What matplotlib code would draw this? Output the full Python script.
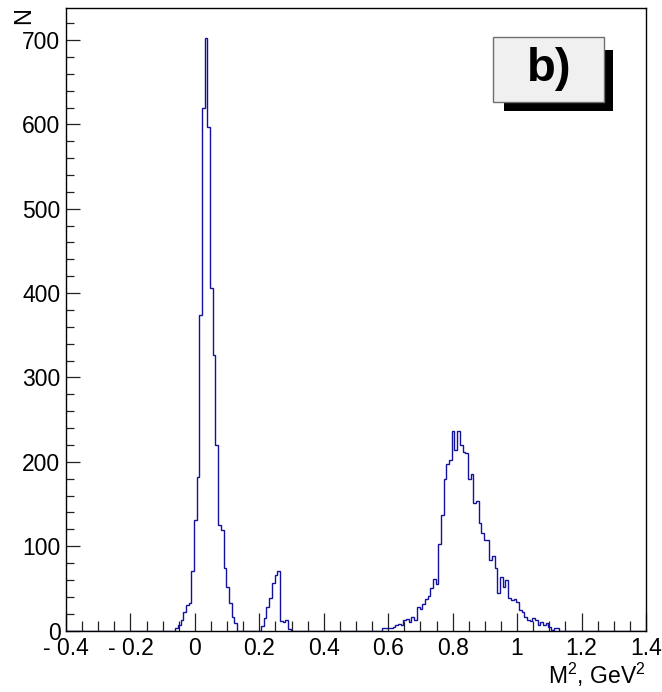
import numpy as np
import matplotlib
matplotlib.use("Agg")
import matplotlib.pyplot as plt
from matplotlib.patches import Rectangle
from matplotlib.ticker import MultipleLocator, FixedLocator, FixedFormatter

plt.rcParams['font.family'] = ['Liberation Sans', 'DejaVu Sans']
plt.rcParams['mathtext.fontset'] = 'custom'
plt.rcParams['mathtext.rm'] = 'Liberation Sans'
plt.rcParams['mathtext.it'] = 'Liberation Sans:italic'

# ---- data -------------------------------------------------------------
hist_lo = -0.4028
bin_width = 1 / 120
nbins = 217

pi_first_bin = 41
pi_counts = [3, 6, 12, 22, 30, 33, 71, 131, 182, 374, 620, 703, 597, 406,
             327, 220, 125, 119, 74, 52, 33, 16, 9]

eta_first_bin = 73
eta_counts = [5, 15, 28, 38, 56, 66, 70, 11, 10, 12, 2]

omega_first_bin = 118
omega_counts = [3, 3, 3, 3, 4, 6, 8, 6, 12, 14, 10, 16, 12, 28, 26, 32, 37,
                41, 50, 61, 55, 103, 137, 180, 197, 202, 237, 214, 237, 220,
                212, 210, 180, 185, 151, 153, 127, 115, 107, 107, 84, 88, 74,
                44, 64, 52, 60, 38, 36, 37, 34, 24, 22, 16, 12, 11, 15, 13, 6,
                10, 6, 9, 4, 1, 3, 3]

x_ticks = [-0.4, -0.2, 0, 0.2, 0.4, 0.6, 0.8, 1.0, 1.2, 1.4]
x_ticklabels = ["- 0.4", "- 0.2", "0", "0.2", "0.4", "0.6", "0.8", "1", "1.2", "1.4"]
y_ticks = [0, 100, 200, 300, 400, 500, 600, 700]
x_label = r"M$^2$, GeV$^2$"
y_label = "N"
panel_label = "b)"

# ---- build histogram ---------------------------------------------------
counts = np.zeros(nbins)
for first, vals in ((pi_first_bin, pi_counts), (eta_first_bin, eta_counts),
                    (omega_first_bin, omega_counts)):
    counts[first:first + len(vals)] = vals
edges = hist_lo + bin_width * np.arange(nbins + 1)

W, H = 662, 692
fig = plt.figure(figsize=(W / 100, H / 100), dpi=100)
fig.patch.set_facecolor('white')

def fx(px):
    return px / W

def fy(py):
    return 1 - py / H

left, right, top, bottom = 66, 646, 8, 630.5
ax = fig.add_axes([fx(left), fy(bottom), (right - left) / W, (bottom - top) / H])

ax.stairs(counts, edges, color='#12129c', lw=1.0, zorder=2)
ax.set_xlim(-0.4, 1.4)
ax.set_ylim(0, 738)

for s in ax.spines.values():
    s.set_linewidth(1.0)
    s.set_color('black')
    s.set_zorder(3)

ax.xaxis.set_major_locator(FixedLocator(x_ticks))
ax.xaxis.set_major_formatter(FixedFormatter(x_ticklabels))
ax.xaxis.set_minor_locator(MultipleLocator(0.05))
ax.yaxis.set_major_locator(FixedLocator(y_ticks))
ax.yaxis.set_minor_locator(MultipleLocator(20))

ax.tick_params(axis='x', which='major', direction='in', length=13, width=0.9,
               color='#222222', labelsize=16.5, pad=5, top=False)
ax.tick_params(axis='x', which='minor', direction='in', length=7.2, width=0.9,
               color='#222222', top=False)
ax.tick_params(axis='y', which='major', direction='in', length=10.3, width=0.9,
               color='#222222', labelsize=16.5, pad=4, right=False)
ax.tick_params(axis='y', which='minor', direction='in', length=5.5, width=0.9,
               color='#222222', right=False)

fig.text(fx(646), fy(675), x_label, ha='right', va='center', fontsize=16.5)
fig.text(fx(24), fy(7), y_label, ha='center', va='top', rotation=90, fontsize=17)

# panel label with shadow
shadow = Rectangle((fx(504), fy(110.7)), (612.7 - 504) / W, (110.7 - 50) / H,
                   transform=fig.transFigure, facecolor='black', edgecolor='black',
                   lw=0, zorder=5)
box = Rectangle((fx(493.3), fy(101.7)), (604 - 493.3) / W, (101.7 - 37.3) / H,
                transform=fig.transFigure, facecolor='#f0f0f0', edgecolor='#707070',
                lw=1.0, zorder=6)
fig.patches.extend([shadow, box])
fig.text(fx(549), fy(69), panel_label, ha='center', va='center', fontsize=34,
         fontweight='bold', zorder=7)

fig.savefig('out.png', dpi=100)
